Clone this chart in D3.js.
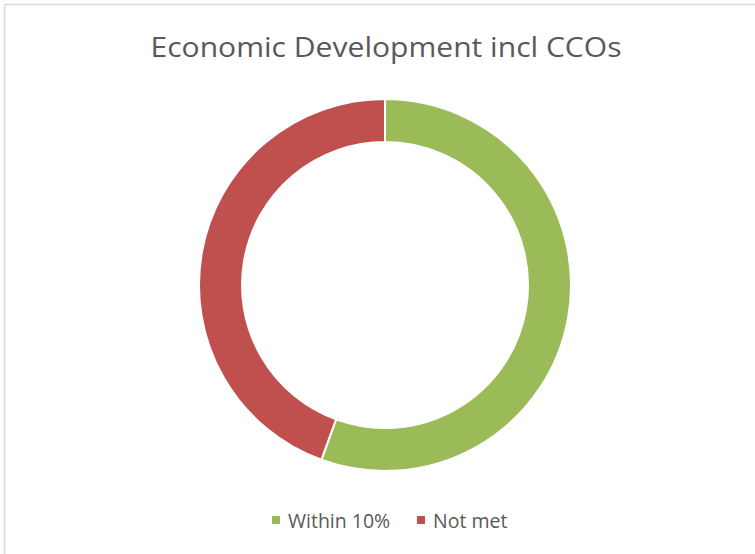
<!DOCTYPE html>
<html>
<head>
<meta charset="utf-8">
<script src="https://cdn.jsdelivr.net/npm/d3@7"></script>
<style>
  html, body { margin: 0; padding: 0; background: #fff; }
  svg { display: block; }
</style>
</head>
<body>
<svg id="chart" width="755" height="554"></svg>
<script>
// Chart data
const title = "Economic Development incl CCOs";
const categories = ["Within 10%", "Not met"];
const values = [5, 4];
const colors = ["#9BBB59", "#C0504D"];

const svg = d3.select("#chart");
const W = 755, H = 554;
const font = "'Open Sans', 'Noto Sans', sans-serif";

// Chart area frame
svg.append("rect")
  .attr("x", 4.5).attr("y", 4.5)
  .attr("width", W + 20).attr("height", H + 20)
  .attr("fill", "#fff")
  .attr("stroke", "#d9d9d9")
  .attr("stroke-width", 1.5);

// Title
svg.append("text")
  .attr("x", 386).attr("y", 57)
  .attr("text-anchor", "middle")
  .attr("font-family", font)
  .attr("font-size", 27)
  .attr("fill", "#595959")
  .attr("textLength", 471)
  .attr("lengthAdjust", "spacingAndGlyphs")
  .text(title);

// Donut
const cx = 385, cy = 285, outerR = 186, innerR = 143;
const data = categories.map((c, i) => ({ category: c, value: values[i], color: colors[i] }));

const pie = d3.pie().value(d => d.value).sort(null);
const arc = d3.arc().innerRadius(innerR).outerRadius(outerR);

svg.append("g")
  .attr("transform", `translate(${cx},${cy})`)
  .selectAll("path")
  .data(pie(data))
  .join("path")
  .attr("d", arc)
  .attr("fill", d => d.data.color)
  .attr("stroke", "#fff")
  .attr("stroke-width", 2);

// Legend
const legendX = [272, 417];
const legend = svg.append("g")
  .attr("font-family", font)
  .attr("font-size", 19.5)
  .attr("fill", "#595959");

data.forEach((d, i) => {
  legend.append("rect")
    .attr("x", legendX[i]).attr("y", 516)
    .attr("width", 8).attr("height", 8)
    .attr("fill", d.color);
  legend.append("text")
    .attr("x", legendX[i] + 16).attr("y", 528)
    .text(d.category);
});
</script>
</body>
</html>
